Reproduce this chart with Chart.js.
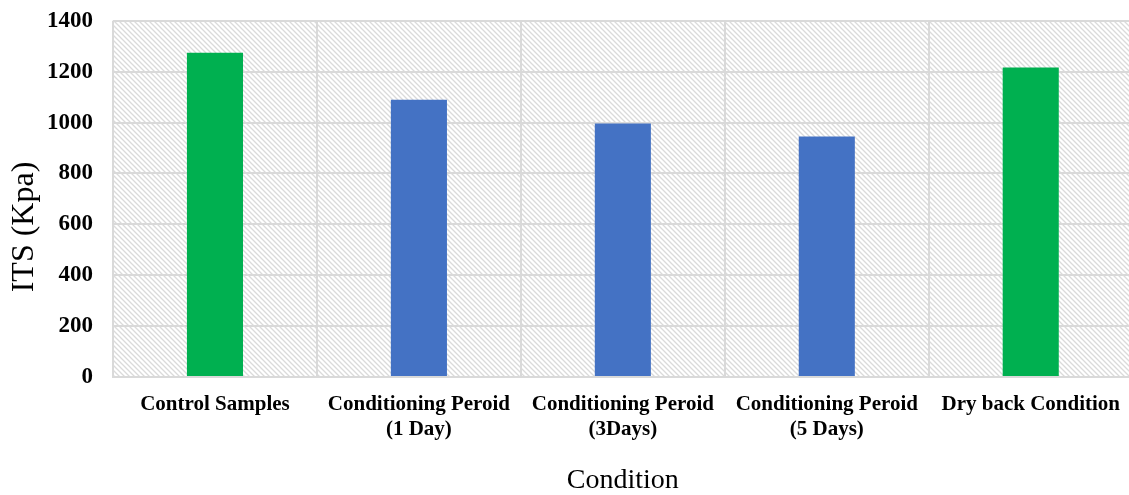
<!DOCTYPE html>
<html lang="en">
<head>
    <meta charset="UTF-8">
    <title>ITS by Condition</title>
    <script src="https://cdn.jsdelivr.net/npm/chart.js@4.4.0/dist/chart.umd.min.js"></script>
    <style>
        body {
            margin: 0;
            background: #fff;
            overflow: hidden;
        }
        .chart-box {
            width: 1135px;
            height: 508px;
            margin-top: -13px;
        }
    </style>
</head>
<body>
    <div class="chart-box">
        <canvas id="itsChart"></canvas>
    </div>

    <script>
        const categories = [
            'Control Samples',
            ['Conditioning Peroid', '(1 Day)'],
            ['Conditioning Peroid', '(3Days)'],
            ['Conditioning Peroid', '(5 Days)'],
            'Dry back Condition'
        ];
        const itsValues = [1274, 1090, 996, 945, 1216];
        const barColors = ['#00B050', '#4472C4', '#4472C4', '#4472C4', '#00B050'];
        const yTitle = 'ITS (Kpa)';
        const xTitle = 'Condition';

        // hatched plot background (diagonal grey stripes)
        function makeHatch() {
            const tile = document.createElement('canvas');
            tile.width = 5;
            tile.height = 5;
            const t = tile.getContext('2d');
            t.fillStyle = '#ffffff';
            t.fillRect(0, 0, 5, 5);
            t.strokeStyle = '#dadada';
            t.lineWidth = 1.3;
            t.beginPath();
            t.moveTo(0, 0); t.lineTo(5, 5);
            t.moveTo(-2.5, 2.5); t.lineTo(2.5, 7.5);
            t.moveTo(2.5, -2.5); t.lineTo(7.5, 2.5);
            t.stroke();
            return tile;
        }

        const hatchPlugin = {
            id: 'hatch',
            beforeDraw(chart) {
                const {ctx, chartArea} = chart;
                ctx.save();
                ctx.fillStyle = ctx.createPattern(makeHatch(), 'repeat');
                ctx.fillRect(chartArea.left, chartArea.top, chartArea.right - chartArea.left, chartArea.bottom - chartArea.top);
                ctx.restore();
            }
        };

        // y title sits a little lower than the plot centre in the original
        const yTitlePlugin = {
            id: 'yTitle',
            afterDraw(chart) {
                const {ctx} = chart;
                ctx.save();
                ctx.translate(25, 240);
                ctx.rotate(-Math.PI / 2);
                ctx.font = '32px "Liberation Serif"';
                ctx.fillStyle = '#000';
                ctx.textAlign = 'center';
                ctx.textBaseline = 'middle';
                ctx.fillText(yTitle, 0, 0);
                ctx.restore();
            }
        };

        const ctx = document.getElementById('itsChart').getContext('2d');
        new Chart(ctx, {
            type: 'bar',
            data: {
                labels: categories,
                datasets: [{
                    data: itsValues,
                    backgroundColor: barColors,
                    categoryPercentage: 1,
                    barPercentage: 0.275
                }]
            },
            options: {
                responsive: true,
                maintainAspectRatio: false,
                animation: false,
                layout: {
                    padding: {top: 6, right: 0, bottom: 0, left: 0}
                },
                plugins: {
                    legend: {display: false},
                    tooltip: {enabled: false}
                },
                scales: {
                    x: {
                        afterFit(scale) { scale.height = 118; },
                        grid: {
                            color: '#d9d9d9',
                            lineWidth: 2,
                            offset: true,
                            drawTicks: false
                        },
                        border: {color: '#d9d9d9', width: 2},
                        ticks: {
                            color: '#000',
                            maxRotation: 0,
                            autoSkip: false,
                            padding: 15,
                            font: {family: 'Liberation Serif', size: 21, weight: 'bold', lineHeight: 1.2}
                        },
                        title: {
                            display: true,
                            text: xTitle,
                            color: '#000',
                            font: {family: 'Liberation Serif', size: 28, lineHeight: 1.0},
                            padding: {top: 0, bottom: 0}
                        }
                    },
                    y: {
                        min: 0,
                        max: 1400,
                        afterFit(scale) { scale.width = 113; },
                        grid: {
                            color: '#d9d9d9',
                            lineWidth: 2,
                            drawTicks: false
                        },
                        border: {display: false},
                        ticks: {
                            stepSize: 200,
                            color: '#000',
                            padding: 20,
                            callback: v => String(v),
                            font: {family: 'Liberation Serif', size: 23, weight: 'bold'}
                        }
                    }
                }
            },
            plugins: [hatchPlugin, yTitlePlugin]
        });
    </script>
</body>
</html>
